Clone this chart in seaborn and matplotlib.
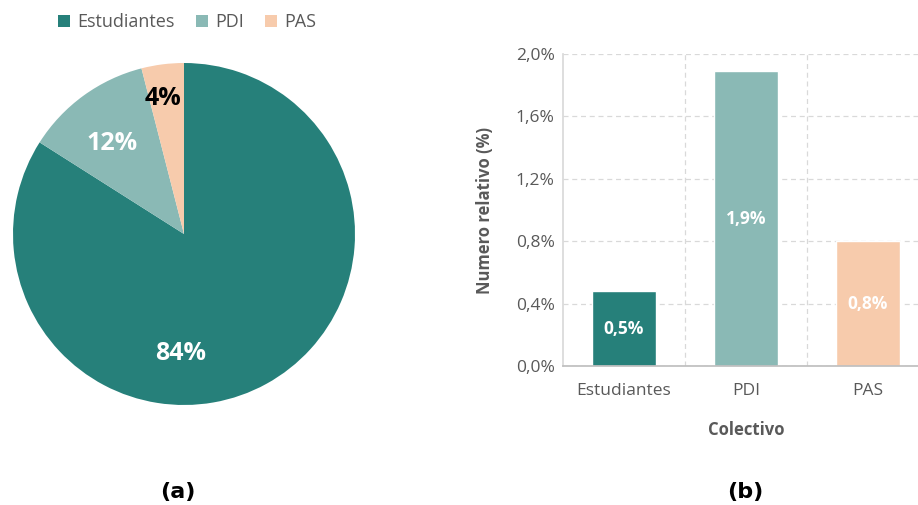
import matplotlib
matplotlib.use("Agg")
import matplotlib.pyplot as plt
import seaborn as sns
import pandas as pd
from matplotlib.ticker import FuncFormatter, FixedLocator
from matplotlib.patches import Patch

sns.set_theme(style="white")
plt.rcParams['font.family'] = ['Open Sans', 'DejaVu Sans']

categories = ["Estudiantes", "PDI", "PAS"]
pie_shares = [84, 12, 4]
pie_labels = ["84%", "12%", "4%"]
rel_values = [0.48, 1.89, 0.80]
rel_labels = ["0,5%", "1,9%", "0,8%"]
colors = ["#26807A", "#8AB9B5", "#F7CBAC"]
pie_label_colors = ["white", "white", "black"]

W, H = 918, 505
fig = plt.figure(figsize=(W / 100, H / 100), dpi=100)

# ---- Pie (a)
cx, cy, r = 184, 234, 171
axp = fig.add_axes([(cx - r) / W, (H - cy - r) / H, 2 * r / W, 2 * r / H])
wedges, _ = axp.pie(pie_shares, colors=colors, startangle=90, counterclock=False,
                    wedgeprops=dict(linewidth=0))
axp.set_xlim(-1, 1)
axp.set_ylim(-1, 1)
axp.set_aspect("equal")
label_pos = [(-0.02, -0.70), (-0.42, 0.53), (-0.12, 0.79)]
for (x, y), t, c in zip(label_pos, pie_labels, pie_label_colors):
    axp.text(x, y, t, ha="center", va="center", color=c, fontsize=18,
             fontweight="bold")

handles = [Patch(facecolor=c, edgecolor="none") for c in colors]
fig.legend(handles, categories, loc="center", bbox_to_anchor=(187 / W, 1 - 22 / H),
           ncol=3, frameon=False, fontsize=13, handlelength=0.65, handleheight=0.65,
           handletextpad=0.4, columnspacing=1.2, labelcolor="#595959")

fig.text(178 / W, 1 - 492 / H, "(a)", ha="center", va="center", fontsize=16,
         fontweight="bold", family="DejaVu Sans", color="black")
fig.text(745 / W, 1 - 492 / H, "(b)", ha="center", va="center", fontsize=16,
         fontweight="bold", family="DejaVu Sans", color="black")

# ---- Bars (b)
left, right, top, bottom = 563, 929, 54, 366
axb = fig.add_axes([left / W, (H - bottom) / H, (right - left) / W, (bottom - top) / H])
df = pd.DataFrame({"Colectivo": categories, "valor": rel_values})
sns.barplot(data=df, x="Colectivo", y="valor", hue="Colectivo", palette=colors,
            width=0.53, ax=axb, legend=False, saturation=1)
axb.set_xlim(-0.5, 2.5)
axb.set_ylim(0, 2.0)
axb.set_yticks([0, 0.4, 0.8, 1.2, 1.6, 2.0])
axb.yaxis.set_major_formatter(FuncFormatter(lambda v, p: f"{v:.1f}%".replace(".", ",")))
axb.xaxis.set_minor_locator(FixedLocator([0.5, 1.5, 2.5]))
axb.grid(True, axis="y", which="major", linestyle=(0, (4, 3)), color="#D9D9D9", linewidth=0.9)
axb.grid(True, axis="x", which="minor", linestyle=(0, (4, 3)), color="#D9D9D9", linewidth=0.9)
axb.grid(False, axis="x", which="major")
axb.set_axisbelow(True)
for s in ["top", "right"]:
    axb.spines[s].set_visible(False)
axb.spines["left"].set_color("#D9D9D9")
axb.spines["bottom"].set_color("#BFBFBF")
axb.tick_params(axis="both", which="both", length=0, labelsize=12.5, labelcolor="#595959")
axb.tick_params(axis="x", pad=12)
axb.tick_params(axis="y", pad=6)
axb.set_xlabel("Colectivo", fontsize=12, fontweight="bold", color="#595959", labelpad=16)
axb.set_ylabel("Numero relativo (%)", fontsize=12, fontweight="bold", color="#595959",
               labelpad=16)
label_y = [0.24, 0.945, 0.40]
for i, (yv, t) in enumerate(zip(label_y, rel_labels)):
    axb.text(i, yv, t, ha="center", va="center", color="white", fontsize=12.5,
             fontweight="bold")

fig.savefig("out.png", dpi=100, facecolor="white")
